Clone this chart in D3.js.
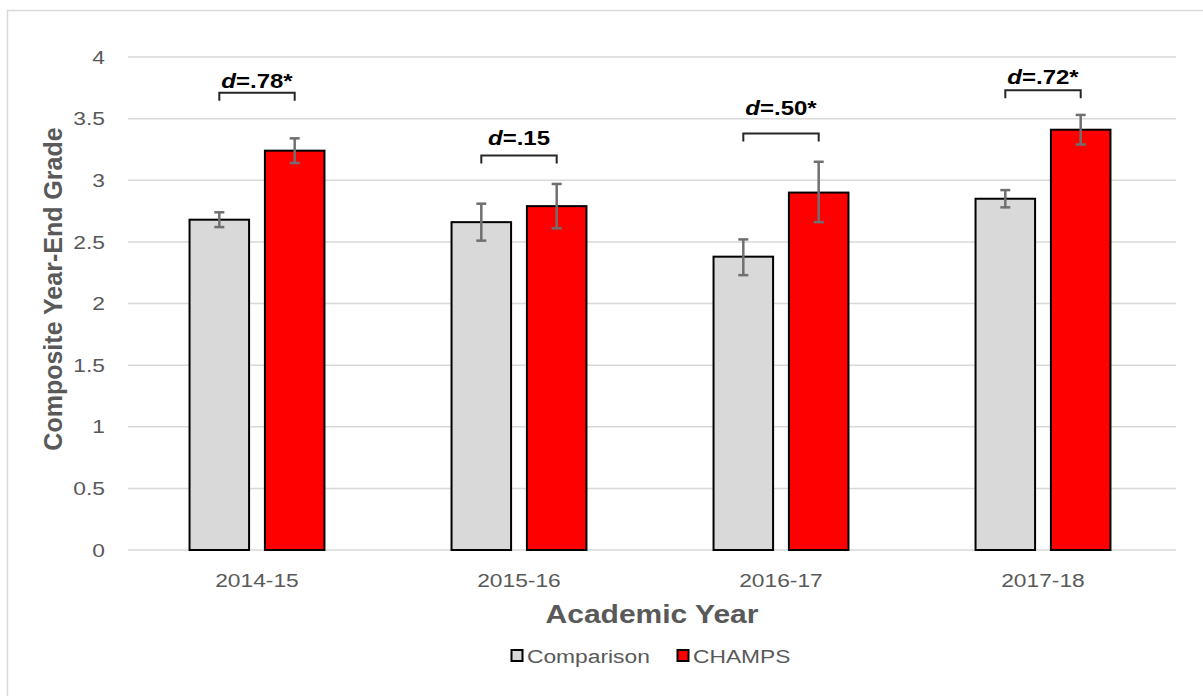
<!DOCTYPE html>
<html>
<head>
<meta charset="utf-8">
<script src="https://cdn.jsdelivr.net/npm/d3@7"></script>
<style>
  body { margin: 0; background: #fff; }
  text { font-family: "Liberation Sans", Arial, sans-serif; }
</style>
</head>
<body>
<svg id="chart" width="1203" height="696"></svg>
<script>
// chart data
const years = ["2014-15", "2015-16", "2016-17", "2017-18"];
const seriesNames = ["Comparison", "CHAMPS"];
const comparison = [2.68, 2.66, 2.38, 2.85];
const champs = [3.24, 2.79, 2.90, 3.41];
const comparisonLow = [2.62, 2.51, 2.23, 2.78];
const comparisonHigh = [2.74, 2.81, 2.52, 2.92];
const champsLow = [3.14, 2.61, 2.66, 3.29];
const champsHigh = [3.34, 2.97, 3.15, 3.53];
const effectLabels = [".78*", ".15", ".50*", ".72*"];
const bracketLevels = [3.71, 3.20, 3.38, 3.73];
const labelLevels = [3.745, 3.29, 3.53, 3.78];
const yTicks = [0, 0.5, 1, 1.5, 2, 2.5, 3, 3.5, 4];

const svg = d3.select("#chart");
const margin = {left: 128, right: 27, top: 57, bottom: 146};
const W = 1203, H = 696;
const innerW = W - margin.left - margin.right;
const innerH = H - margin.top - margin.bottom;
const SX = 1.2; // the source picture's text is a bit wide

// outer frame
svg.append("rect")
    .attr("x", 7.5).attr("y", 10.5)
    .attr("width", 1220).attr("height", 720)
    .attr("fill", "none").attr("stroke", "#d9d9d9").attr("stroke-width", 1.5);

const g = svg.append("g").attr("transform", `translate(${margin.left},${margin.top})`);

const y = d3.scaleLinear().domain([0, 4]).range([innerH, 0]);
const x0 = d3.scaleBand().domain(years).range([-2, innerW - 2]).paddingInner(0.485).paddingOuter(0.2425);
const x1 = d3.scaleBand().domain(seriesNames).range([0, x0.bandwidth()]).paddingInner(0.21);
const colors = {Comparison: "#d9d9d9", CHAMPS: "#ff0000"};

// gridlines
g.selectAll(".grid").data(yTicks).enter().append("line")
    .attr("x1", 0).attr("x2", innerW)
    .attr("y1", d => y(d)).attr("y2", d => y(d))
    .attr("stroke", "#d9d9d9").attr("stroke-width", 1.5);

// y tick labels
g.selectAll(".ytick").data(yTicks).enter().append("text")
    .attr("transform", d => `translate(-23,${y(d)}) scale(${SX},1)`)
    .attr("dy", "0.35em")
    .attr("text-anchor", "end").attr("fill", "#595959").attr("font-size", 19)
    .text(d => d);

const rows = years.map((yr, i) => ({
    year: yr,
    bars: [
        {s: "Comparison", v: comparison[i], lo: comparisonLow[i], hi: comparisonHigh[i]},
        {s: "CHAMPS", v: champs[i], lo: champsLow[i], hi: champsHigh[i]}
    ]
}));

const groups = g.selectAll(".grp").data(rows).enter().append("g")
    .attr("transform", d => `translate(${x0(d.year)},0)`);

groups.selectAll("rect").data(d => d.bars).enter().append("rect")
    .attr("x", d => x1(d.s)).attr("width", x1.bandwidth())
    .attr("y", d => y(d.v)).attr("height", d => y(0) - y(d.v))
    .attr("fill", d => colors[d.s]).attr("stroke", "#000").attr("stroke-width", 2);

// error bars
const cx = d => x1(d.s) + x1.bandwidth() / 2;
const eb = groups.selectAll(".eb").data(d => d.bars).enter().append("g")
    .attr("stroke", "#6f6f6f").attr("stroke-width", 2.5);
eb.append("line")
    .attr("x1", cx).attr("x2", cx)
    .attr("y1", d => y(d.lo)).attr("y2", d => y(d.hi));
eb.append("line")
    .attr("x1", d => cx(d) - 5).attr("x2", d => cx(d) + 5)
    .attr("y1", d => y(d.lo)).attr("y2", d => y(d.lo));
eb.append("line")
    .attr("x1", d => cx(d) - 5).attr("x2", d => cx(d) + 5)
    .attr("y1", d => y(d.hi)).attr("y2", d => y(d.hi));

// effect size brackets
groups.each(function(d, i) {
    const grp = d3.select(this);
    const xa = x1("Comparison") + x1.bandwidth() / 2;
    const xb = x1("CHAMPS") + x1.bandwidth() / 2;
    const yb = y(bracketLevels[i]);
    grp.append("path")
        .attr("d", `M${xa},${yb + 8}V${yb}H${xb}V${yb + 8}`)
        .attr("fill", "none").attr("stroke", "#262626").attr("stroke-width", 2);
    const t = grp.append("text")
        .attr("transform", `translate(${(xa + xb) / 2},${y(labelLevels[i])}) scale(${SX},1)`)
        .attr("text-anchor", "middle").attr("font-size", 20).attr("font-weight", "bold")
        .attr("fill", "#000");
    t.append("tspan").attr("font-style", "italic").text("d");
    t.append("tspan").text("=" + effectLabels[i]);
});

// x labels
g.selectAll(".xlab").data(years).enter().append("text")
    .attr("transform", d => `translate(${x0(d) + x0.bandwidth() / 2},${innerH + 37}) scale(${SX},1)`)
    .attr("text-anchor", "middle").attr("fill", "#595959").attr("font-size", 19)
    .text(d => d);

// axis titles
svg.append("text")
    .attr("transform", `translate(${margin.left + innerW / 2},623) scale(${SX},1)`)
    .attr("text-anchor", "middle").attr("fill", "#595959")
    .attr("font-size", 25).attr("font-weight", "bold")
    .text("Academic Year");

svg.append("text")
    .attr("transform", `translate(62,289) rotate(-90)`)
    .attr("text-anchor", "middle").attr("fill", "#595959")
    .attr("font-size", 25).attr("font-weight", "bold")
    .text("Composite Year-End Grade");

// legend
const legend = svg.append("g").attr("transform", "translate(511,656)");
const lx = [0, 166];
seriesNames.forEach((s, i) => {
    const item = legend.append("g").attr("transform", `translate(${lx[i]},0)`);
    item.append("rect").attr("x", 0.5).attr("y", -6).attr("width", 11).attr("height", 11)
        .attr("fill", colors[s]).attr("stroke", "#000").attr("stroke-width", 2);
    item.append("text").attr("transform", `translate(16,0) scale(${SX},1)`).attr("dy", "0.35em")
        .attr("fill", "#595959").attr("font-size", 19).text(s);
});
</script>
</body>
</html>
